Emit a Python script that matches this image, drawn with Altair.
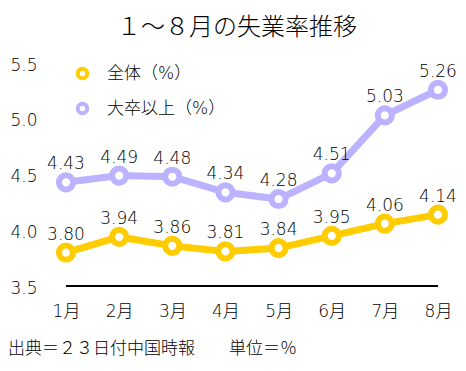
import altair as alt
import pandas as pd

months = ["1月", "2月", "3月", "4月", "5月", "6月", "7月", "8月"]
series_names = ["全体（%）", "大卒以上（%）"]
overall = [3.80, 3.94, 3.86, 3.81, 3.84, 3.95, 4.06, 4.14]
college = [4.43, 4.49, 4.48, 4.34, 4.28, 4.51, 5.03, 5.26]
y_ticks = [3.5, 4.0, 4.5, 5.0, 5.5]
title_text = "１～８月の失業率推移"
footer_text = "出典＝２３日付中国時報　　単位＝％"

rows = []
for i, m in enumerate(months):
    rows.append({"month": m, "series": series_names[0], "value": overall[i]})
    rows.append({"month": m, "series": series_names[1], "value": college[i]})
df = pd.DataFrame(rows)

CJK = "Noto Sans CJK JP"
MIX = "DejaVu Sans, Noto Sans CJK JP"
COLORS = ["#ffcc00", "#bbb3ff"]

x = alt.X("month:N", sort=months, scale=alt.Scale(type="point", padding=0),
          axis=alt.Axis(title=None, labelAngle=0, labelFontSize=17, labelFont=MIX,
                        labelFontWeight=300,
                        labelColor="#000", ticks=False, domain=False, grid=False,
                        labelPadding=17))
y = alt.Y("value:Q", scale=alt.Scale(domain=[3.5, 5.5], nice=False, zero=False),
          axis=alt.Axis(title=None, values=y_ticks, format=".1f", labelFontSize=17,
                        labelFont=MIX, labelFontWeight=300, labelColor="#000",
                        ticks=False, domain=False, labelOffset=2,
                        gridColor="#aaaaaa", gridWidth=2, gridOpacity=1, labelPadding=29))
color = alt.Color("series:N", sort=series_names,
                  scale=alt.Scale(domain=series_names, range=COLORS),
                  legend=alt.Legend(title=None, orient="none", legendX=8, legendY=2,
                                    symbolType="circle", symbolFillColor="white",
                                    symbolStrokeWidth=4, symbolSize=90,
                                    labelFontSize=17, labelFont=MIX, labelFontWeight=300,
                                    labelColor="#000", rowPadding=8, labelOffset=16))

base = alt.Chart(df)

bottom = base.mark_rule(color="#000", strokeWidth=2).encode(
    y=alt.datum(3.5), x=alt.value(0), x2=alt.value(372))

lines = base.mark_line(strokeWidth=7).encode(x=x, y=y, color=color)
points = base.mark_point(filled=True, fill="white", strokeWidth=6, size=200, opacity=1).encode(
    x=x, y=y, stroke=alt.Stroke("series:N", scale=alt.Scale(domain=series_names, range=COLORS), legend=None))
labels = base.mark_text(baseline="alphabetic", dy=-13, fontSize=17, font=MIX,
                        fontWeight=300, color="#000").encode(
    x=x, y=y, text=alt.Text("value:Q", format=".2f"))

footer = alt.Chart(pd.DataFrame({"t": [footer_text]})).mark_text(
    align="left", baseline="middle", fontSize=17, font=CJK, fontWeight=300, color="#000").encode(
    x=alt.value(-58), y=alt.value(286), text="t:N")

chart = alt.layer(bottom, lines, points, labels, footer).properties(
    width=372, height=223,
    autosize=alt.AutoSizeParams(type="none"),
    padding={"left": 58, "top": 55, "right": 20, "bottom": 85},
    title=alt.TitleParams(title_text, fontSize=24, font=CJK, fontWeight=300,
                          color="#000", anchor="middle", dx=-15, offset=16),
).configure_view(stroke=None)

chart.save("out.html", embed_options={"renderer": "svg", "actions": False})
